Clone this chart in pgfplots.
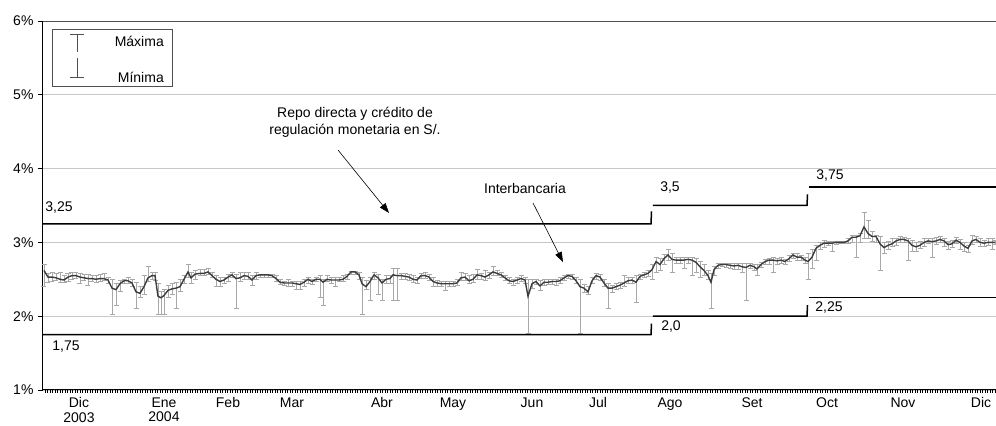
\documentclass[border=0pt]{standalone}
\usepackage{fontspec}
\setmainfont{Liberation Sans}
\usepackage{pgfplots}
\pgfplotsset{compat=1.18}
\usepackage{pgfplotstable}
\usetikzlibrary{arrows.meta}

\definecolor{gridgrey}{HTML}{C8C8C8}
\definecolor{errgrey}{HTML}{A8A8A8}
\definecolor{linegrey}{HTML}{3C3C3C}
\definecolor{boxgrey}{HTML}{505050}

\newcommand{\chfont}{\fontsize{14}{17}\selectfont}
\newcommand{\tkfont}{\fontsize{14}{14.5}\selectfont}

% interbank rate: day, average, maximum, minimum (%)
\pgfplotstableread{
x y hi lo
1.6 2.62 2.70 2.41
3.2 2.53 2.58 2.46
4.8 2.53 2.60 2.47
6.4 2.52 2.58 2.48
8.0 2.50 2.60 2.46
9.6 2.49 2.55 2.46
11.2 2.53 2.58 2.47
12.8 2.55 2.60 2.50
14.4 2.55 2.60 2.51
16.0 2.53 2.58 2.45
17.6 2.52 2.56 2.48
19.2 2.51 2.56 2.42
20.8 2.51 2.55 2.47
22.4 2.50 2.55 2.46
24.0 2.51 2.56 2.47
25.6 2.51 2.58 2.48
27.2 2.49 2.53 2.44
28.8 2.38 2.50 2.02
30.4 2.36 2.45 2.15
32.0 2.44 2.48 2.33
33.6 2.48 2.50 2.45
35.2 2.48 2.52 2.45
36.8 2.45 2.50 2.40
38.4 2.33 2.46 2.11
40.0 2.31 2.40 2.25
41.6 2.40 2.55 2.30
43.2 2.52 2.67 2.47
44.8 2.55 2.60 2.50
46.0 2.55 2.60 2.48
47.2 2.27 2.45 2.02
48.4 2.25 2.33 2.02
49.6 2.28 2.36 2.02
51.2 2.35 2.42 2.25
52.8 2.37 2.45 2.30
54.4 2.38 2.46 2.11
56.0 2.40 2.50 2.33
57.6 2.50 2.55 2.45
59.2 2.60 2.70 2.52
60.4 2.52 2.60 2.45
62.0 2.57 2.62 2.50
64.0 2.58 2.63 2.55
65.6 2.58 2.63 2.55
67.2 2.60 2.65 2.56
68.8 2.55 2.60 2.52
70.4 2.50 2.55 2.40
72.0 2.47 2.52 2.40
73.6 2.49 2.53 2.44
75.2 2.53 2.56 2.47
76.8 2.56 2.60 2.52
78.4 2.51 2.56 2.11
80.0 2.52 2.60 2.47
81.6 2.55 2.60 2.50
83.2 2.54 2.60 2.50
84.8 2.49 2.55 2.42
86.4 2.55 2.60 2.50
88.0 2.56 2.57 2.53
89.6 2.56 2.57 2.53
91.2 2.56 2.57 2.53
92.8 2.55 2.57 2.52
94.4 2.51 2.55 2.47
96.0 2.46 2.50 2.43
97.6 2.45 2.47 2.42
99.2 2.45 2.50 2.40
100.8 2.45 2.47 2.40
102.4 2.44 2.47 2.36
104.0 2.43 2.47 2.36
105.6 2.46 2.50 2.40
107.2 2.50 2.52 2.45
108.8 2.47 2.50 2.43
110.4 2.50 2.52 2.47
112.0 2.50 2.55 2.26
113.2 2.46 2.50 2.15
114.8 2.50 2.55 2.47
116.4 2.49 2.52 2.45
118.0 2.49 2.52 2.40
119.6 2.49 2.52 2.47
121.2 2.50 2.55 2.47
122.8 2.54 2.57 2.50
124.4 2.60 2.61 2.56
126.0 2.60 2.61 2.56
127.6 2.56 2.60 2.50
128.8 2.44 2.52 2.02
130.4 2.40 2.49 2.36
132.0 2.47 2.52 2.21
133.6 2.56 2.60 2.50
135.2 2.52 2.57 2.29
136.8 2.45 2.50 2.21
138.4 2.50 2.55 2.44
140.0 2.51 2.55 2.45
141.2 2.56 2.65 2.21
142.8 2.55 2.65 2.21
144.4 2.55 2.58 2.50
146.0 2.54 2.58 2.50
147.6 2.53 2.57 2.48
149.2 2.50 2.55 2.46
150.8 2.49 2.53 2.45
152.4 2.55 2.58 2.51
154.0 2.55 2.59 2.51
155.6 2.53 2.57 2.48
157.2 2.47 2.52 2.40
158.8 2.45 2.48 2.41
160.4 2.44 2.47 2.40
162.0 2.44 2.47 2.35
163.6 2.44 2.47 2.40
165.2 2.44 2.47 2.40
166.8 2.45 2.50 2.42
168.4 2.52 2.60 2.48
170.0 2.53 2.58 2.48
171.6 2.48 2.55 2.45
173.2 2.50 2.57 2.46
174.8 2.56 2.63 2.50
176.4 2.55 2.58 2.50
178.0 2.53 2.62 2.48
179.6 2.56 2.60 2.51
181.2 2.60 2.67 2.55
182.8 2.58 2.62 2.55
184.4 2.56 2.60 2.52
186.0 2.52 2.55 2.48
187.6 2.48 2.52 2.44
189.2 2.47 2.50 2.42
190.8 2.49 2.52 2.45
192.4 2.51 2.55 2.47
194.0 2.49 2.52 2.45
195.2 2.27 2.50 1.77
196.8 2.44 2.50 2.38
198.4 2.47 2.50 2.43
200.0 2.41 2.48 2.35
201.6 2.46 2.50 2.42
203.2 2.46 2.50 2.43
204.8 2.47 2.50 2.43
206.4 2.47 2.50 2.42
208.0 2.48 2.52 2.45
209.6 2.52 2.55 2.48
211.2 2.55 2.57 2.51
212.8 2.54 2.56 2.50
214.4 2.48 2.52 2.45
216.0 2.40 2.50 1.77
217.6 2.38 2.43 2.32
219.2 2.33 2.40 2.30
220.8 2.48 2.52 2.44
222.4 2.55 2.58 2.50
224.0 2.53 2.56 2.48
225.6 2.45 2.50 2.40
227.2 2.38 2.45 2.11
228.8 2.38 2.42 2.32
230.4 2.40 2.44 2.36
232.0 2.42 2.46 2.38
233.6 2.45 2.55 2.40
235.2 2.48 2.52 2.44
236.8 2.49 2.52 2.45
238.4 2.46 2.55 2.19
240.0 2.54 2.57 2.50
241.6 2.56 2.60 2.52
243.2 2.58 2.62 2.54
244.8 2.63 2.70 2.50
246.4 2.74 2.80 2.60
248.0 2.70 2.78 2.62
249.6 2.78 2.84 2.70
251.2 2.83 2.90 2.75
252.8 2.77 2.85 2.60
254.4 2.76 2.80 2.72
256.0 2.76 2.80 2.72
257.6 2.76 2.80 2.65
259.2 2.77 2.80 2.72
260.8 2.76 2.80 2.55
262.4 2.73 2.78 2.60
264.0 2.67 2.74 2.52
265.6 2.62 2.70 2.55
267.2 2.55 2.62 2.50
268.4 2.46 2.58 2.11
269.6 2.63 2.68 2.55
271.2 2.69 2.72 2.65
272.8 2.70 2.72 2.67
274.4 2.70 2.72 2.66
276.0 2.69 2.72 2.65
277.6 2.68 2.72 2.64
279.2 2.69 2.72 2.64
280.8 2.67 2.71 2.60
282.4 2.66 2.72 2.21
284.0 2.69 2.72 2.65
285.6 2.67 2.70 2.62
286.8 2.64 2.70 2.55
288.4 2.70 2.73 2.66
290.0 2.74 2.77 2.70
291.6 2.76 2.78 2.70
293.2 2.76 2.80 2.60
294.8 2.75 2.78 2.70
296.4 2.76 2.80 2.72
298.0 2.74 2.77 2.70
299.6 2.78 2.82 2.74
301.2 2.83 2.85 2.78
302.8 2.80 2.85 2.76
304.4 2.80 2.83 2.76
306.0 2.76 2.80 2.72
307.2 2.74 2.85 2.50
308.8 2.80 2.90 2.65
310.4 2.92 2.96 2.75
312.0 2.96 3.00 2.90
313.6 2.99 3.03 2.93
315.2 2.99 3.01 2.96
316.8 2.99 3.02 2.88
318.4 3.00 3.02 2.97
320.0 3.00 3.02 2.98
321.6 3.00 3.02 2.98
323.2 3.02 3.06 2.98
324.8 3.07 3.10 3.00
326.4 3.07 3.10 2.80
328.0 3.09 3.12 3.00
329.6 3.21 3.41 3.05
331.2 3.12 3.30 3.05
332.8 3.08 3.15 3.02
334.4 3.08 3.10 3.00
336.0 2.98 3.08 2.62
337.6 2.93 3.00 2.85
339.2 2.96 3.02 2.90
340.8 2.98 3.05 2.94
342.4 3.02 3.06 2.96
344.0 3.04 3.08 3.00
345.6 3.04 3.07 3.00
347.2 3.02 3.06 2.75
348.8 2.96 3.03 2.88
350.4 2.94 3.00 2.88
352.0 2.96 3.02 2.92
353.6 3.00 3.05 2.95
355.2 3.02 3.05 2.98
356.8 3.01 3.05 2.80
358.4 3.02 3.07 2.97
360.0 3.04 3.08 3.00
361.6 3.02 3.06 2.95
363.2 2.97 3.02 2.90
364.8 2.98 3.03 2.93
366.4 3.03 3.07 2.98
368.0 3.00 3.04 2.90
369.6 2.95 3.00 2.88
371.2 2.92 2.96 2.87
372.8 3.02 3.10 2.97
374.4 3.04 3.08 3.00
376.0 3.00 3.05 2.95
377.6 2.99 3.03 2.95
379.2 3.00 3.05 2.96
380.8 3.00 3.05 2.90
382.0 3.00 3.03 2.97
}\interbank

\begin{document}
\begin{tikzpicture}
\begin{axis}[
    name=ax,
    scale only axis,
    width=953pt, height=369pt,
    xmin=1.2, xmax=382.4,
    ymin=1, ymax=6,
    axis x line*=bottom,
    axis y line*=left,
    axis line style={black, line width=1pt},
    tick align=outside,
    major tick length=5pt,
    minor tick length=3pt,
    tick style={black, line width=0.7pt},
    minor x tick style={line width=0.45pt},
    major x tick style={draw=none},
    ytick={1,2,3,4,5,6},
    yticklabels={1\%,2\%,3\%,4\%,5\%,6\%},
    xtick={15.6,49.6,75.2,100.8,136.8,165.2,196.8,223.2,252,284.8,314.8,345.2,376.4},
    xticklabels={{Dic\\2003},{Ene\\2004},Feb,Mar,Abr,May,Jun,Jul,Ago,Set,Oct,Nov,Dic},
    minor xtick={2,3,...,382},
    ymajorgrids,
    grid style={gridgrey, line width=0.8pt},
    xticklabel style={font=\tkfont, align=center, anchor=north, yshift=1pt},
    yticklabel style={font=\chfont, xshift=-1pt},
    clip=false,
]
% error bars (maximum / minimum)
\addplot[draw=none, forget plot,
    error bars/.cd, y dir=both, y explicit,
    error bar style={draw=errgrey, line width=0.8pt},
    error mark options={draw=errgrey, rotate=90, mark size=2.5pt, line width=0.8pt}]
    table[x=x, y=y, y error plus expr=\thisrow{hi}-\thisrow{y},
          y error minus expr=\thisrow{y}-\thisrow{lo}] {\interbank};
% interbank average
\addplot[linegrey, line width=1.4pt, mark=none] table[x=x, y=y] {\interbank};

% repo rate (upper corridor)
\addplot[black, line width=1.5pt, mark=none] coordinates {(1.2,3.25) (244.4,3.25) (244.6,3.42)};
\addplot[black, line width=1.5pt, mark=none] coordinates {(245.1,3.5) (306.8,3.5) (307,3.65)};
\addplot[black, line width=1.5pt, mark=none] coordinates {(307.5,3.75) (382.4,3.75)};
% lower corridor
\addplot[black, line width=1.5pt, mark=none] coordinates {(1.2,1.75) (244.4,1.75) (244.6,1.90)};
\addplot[black, line width=1.5pt, mark=none] coordinates {(245.1,2.0) (306.8,2.0) (307,2.15)};
\addplot[black, line width=1.5pt, mark=none] coordinates {(307.5,2.25) (382.4,2.25)};

\draw[boxgrey, line width=0.8pt] (rel axis cs:0,1) -- (rel axis cs:1,1);

\node[font=\chfont] at (axis cs:7.6,3.466) {3,25};
\node[font=\chfont] at (axis cs:10.4,1.583) {1,75};
\node[font=\chfont] at (axis cs:252,3.737) {3,5};
\node[font=\chfont] at (axis cs:316,3.913) {3,75};
\node[font=\chfont] at (axis cs:252.4,1.854) {2,0};
\node[font=\chfont] at (axis cs:315.6,2.111) {2,25};

\node[font=\chfont, align=center] at (axis cs:126,4.631)
    {Repo directa y crédito de\\regulación monetaria en S/.};
\draw[-{Triangle[length=10pt,width=7pt]}, line width=0.6pt]
    (axis cs:119.2,4.252) -- (axis cs:139.6,3.398);
\node[font=\chfont] at (axis cs:194,3.737) {Interbancaria};
\draw[-{Triangle[length=10pt,width=7pt]}, line width=0.6pt]
    (axis cs:197.2,3.534) -- (axis cs:209.2,2.734);
\end{axis}

% legend
\draw[boxgrey, line width=0.8pt] ([shift={(9pt,-8pt)}]ax.north west) rectangle ([shift={(129pt,-65pt)}]ax.north west);
\draw[boxgrey, line width=0.7pt]
    ([shift={(27.5pt,-13pt)}]ax.north west) -- ([shift={(40.5pt,-13pt)}]ax.north west)
    ([shift={(34pt,-13pt)}]ax.north west) -- ([shift={(34pt,-31pt)}]ax.north west)
    ([shift={(34pt,-37pt)}]ax.north west) -- ([shift={(34pt,-56pt)}]ax.north west)
    ([shift={(27.5pt,-56pt)}]ax.north west) -- ([shift={(40.5pt,-56pt)}]ax.north west);
\node[font=\chfont, anchor=base east, inner sep=0pt] at ([shift={(121pt,-26pt)}]ax.north west) {Máxima};
\node[font=\chfont, anchor=base east, inner sep=0pt] at ([shift={(121pt,-62pt)}]ax.north west) {Mínima};

\pgfresetboundingbox
\path[use as bounding box] ([shift={(-43pt,-36pt)}]ax.south west) rectangle ([shift={(0pt,21pt)}]ax.north east);
\end{tikzpicture}
\end{document}
